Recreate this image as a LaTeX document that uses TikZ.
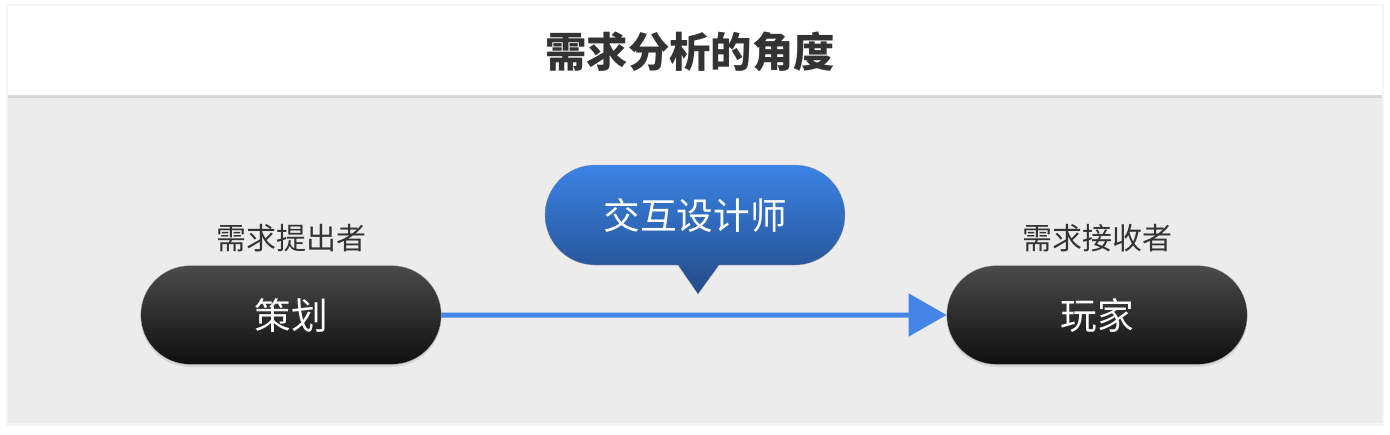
\documentclass[tikz,border=0pt]{standalone}
\usepackage{fontspec}
\setmainfont{Noto Sans CJK SC}
\usetikzlibrary{positioning, shapes.misc, arrows.meta, shadows}
\definecolor{panelgray}{HTML}{ECECEC}
\definecolor{textgray}{HTML}{333333}
\definecolor{flowblue}{HTML}{4386E8}
\definecolor{calltop}{HTML}{3B83E5}
\definecolor{callbot}{HTML}{234B88}
\definecolor{pilltop}{HTML}{4B4B4B}
\definecolor{pillbot}{HTML}{0F0F0F}

\begin{document}
\begin{tikzpicture}[x=0.75pt, y=-0.75pt, node distance=604.5pt, on grid,
  role/.style={rounded rectangle, minimum width=232pt, minimum height=74pt,
    top color=pilltop, bottom color=pillbot, draw=gray!70, very thin,
    text=white, font=\fontsize{27.5}{30}\selectfont,
    drop shadow={shadow xshift=0pt, shadow yshift=-2pt, opacity=.2}},
  tag/.style={text=textgray, font=\fontsize{22.5}{26}\selectfont}]
  \useasboundingbox (0,0) rectangle (1390,435);
  % panels
  \fill[black!4] (6,4) rectangle (1384,426);
  \fill[panelgray] (8,95) rectangle (1382,423);
  \fill[white, drop shadow={shadow xshift=0pt, shadow yshift=-2.5pt, opacity=.2}]
    (8,6) rectangle (1382,95);
  \node[text=textgray, font=\bfseries\fontsize{31}{34}\selectfont] (title) at (690,52) {需求分析的角度};
  % callout
  \shade[top color=calltop, bottom color=callbot, draw=gray!80, very thin]
    (698,294) -- (678,265) [rounded corners=37.5pt] -- (545,265) -- (545,165)
    -- (845,165) -- (845,265) [sharp corners] -- (719,265) -- cycle;
  \node[text=white, font=\fontsize{27.5}{30}\selectfont] (ux) at (695,215) {交互设计师};
  % roles
  \node[role] (plan) at (291,315) {策划};
  \node[role, right=of plan] (user) {玩家};
  \node[tag, above=57.75pt of plan] (from) {需求提出者};
  \node[tag, above=57.75pt of user] (to) {需求接收者};
  \draw[flowblue, line width=3.75pt, -{Triangle[length=28.5pt, width=31.5pt]}] (plan) -- (user);
\end{tikzpicture}
\end{document}
